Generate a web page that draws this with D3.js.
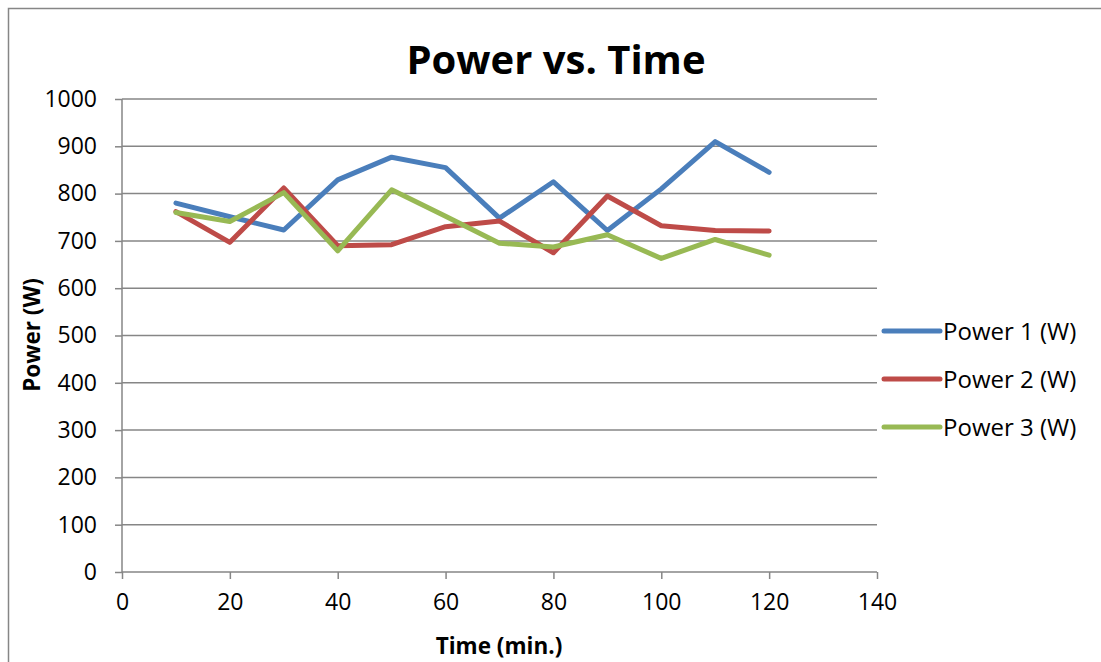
<!DOCTYPE html>
<html>
<head>
<meta charset="utf-8">
<script src="https://cdn.jsdelivr.net/npm/d3@7/dist/d3.min.js"></script>
<style>
  html, body { margin: 0; background: #fff; overflow: hidden; }
  svg { display: block; }
  text { font-family: "Open Sans", "Liberation Sans", sans-serif; fill: #000; }
</style>
</head>
<body>
<svg id="chart" width="1101" height="662"></svg>
<script>
// data
var times = [10, 20, 30, 40, 50, 60, 70, 80, 90, 100, 110, 120];
var power1 = [780, 751, 723, 829, 877, 855, 748, 825, 722, 810, 910, 845];
var power2 = [762, 697, 812, 690, 692, 730, 742, 675, 795, 732, 722, 721];
var power3 = [760, 741, 802, 679, 808, 752, 695, 687, 713, 663, 703, 670];
var seriesNames = ["Power 1 (W)", "Power 2 (W)", "Power 3 (W)"];
var seriesColors = ["#4A7EBB", "#BE4B48", "#98B954"];
var xTicks = [0, 20, 40, 60, 80, 100, 120, 140];
var yTicks = [0, 100, 200, 300, 400, 500, 600, 700, 800, 900, 1000];

var svg = d3.select("#chart");

// outer chart border (runs off the right and bottom)
svg.append("rect")
  .attr("x", 8.5).attr("y", 8.5)
  .attr("width", 1200).attr("height", 800)
  .attr("fill", "none").attr("stroke", "#868686").attr("stroke-width", 1.5);

var x = d3.scaleLinear().domain([0, 140]).range([122, 877]);
var y = d3.scaleLinear().domain([0, 1000]).range([572, 99]);

// gridlines
svg.append("g").selectAll("line")
  .data(yTicks.slice(1))
  .enter().append("line")
  .attr("x1", x(0)).attr("x2", x(140))
  .attr("y1", function(d){ return y(d); })
  .attr("y2", function(d){ return y(d); })
  .attr("stroke", "#868686").attr("stroke-width", 1.5);

// y axis
var yAxis = svg.append("g")
  .attr("transform", "translate(" + x(0) + ",0)")
  .call(d3.axisLeft(y).tickValues(yTicks).tickFormat(d3.format("d")).tickSize(7).tickPadding(18));
// x axis
var xAxis = svg.append("g")
  .attr("transform", "translate(0," + y(0) + ")")
  .call(d3.axisBottom(x).tickValues(xTicks).tickFormat(d3.format("d")).tickSize(7).tickPadding(15));

[yAxis, xAxis].forEach(function(ax){
  ax.select(".domain").attr("stroke", "#868686").attr("stroke-width", 1.5);
  ax.selectAll(".tick line").attr("stroke", "#868686").attr("stroke-width", 1.5);
  ax.selectAll(".tick text")
    .style("font-family", "'Open Sans', 'Liberation Sans', sans-serif")
    .style("font-size", "23px").attr("fill", "#000");
});
yAxis.select(".domain").attr("d", "M0," + y(1000) + "V" + y(0));
xAxis.select(".domain").attr("d", "M" + x(0) + ",0H" + x(140));

// lines
var allSeries = [power1, power2, power3];
var line = d3.line()
  .x(function(d, i){ return x(times[i]); })
  .y(function(d){ return y(d); });

svg.append("g").selectAll("path")
  .data(allSeries)
  .enter().append("path")
  .attr("d", line)
  .attr("fill", "none")
  .attr("stroke", function(d, i){ return seriesColors[i]; })
  .attr("stroke-width", 5)
  .attr("stroke-linejoin", "round")
  .attr("stroke-linecap", "round");

// title
svg.append("text")
  .attr("x", 556).attr("y", 74)
  .attr("text-anchor", "middle")
  .style("font-size", "40px").style("font-weight", "bold")
  .text("Power vs. Time");

// axis titles
svg.append("text")
  .attr("x", 499).attr("y", 654)
  .attr("text-anchor", "middle")
  .style("font-size", "22.5px").style("font-weight", "bold")
  .text("Time (min.)");

svg.append("text")
  .attr("transform", "translate(40,335) rotate(-90)")
  .attr("text-anchor", "middle")
  .style("font-size", "22.5px").style("font-weight", "bold")
  .text("Power (W)");

// legend
var legend = svg.append("g").selectAll("g")
  .data(seriesNames)
  .enter().append("g")
  .attr("transform", function(d, i){ return "translate(884," + (331 + i * 48) + ")"; });

legend.append("line")
  .attr("x1", 0).attr("x2", 56)
  .attr("stroke", function(d, i){ return seriesColors[i]; })
  .attr("stroke-width", 5)
  .attr("stroke-linecap", "round");

legend.append("text")
  .attr("x", 59).attr("dy", "0.36em")
  .style("font-size", "24px")
  .text(function(d){ return d; });
</script>
</body>
</html>
